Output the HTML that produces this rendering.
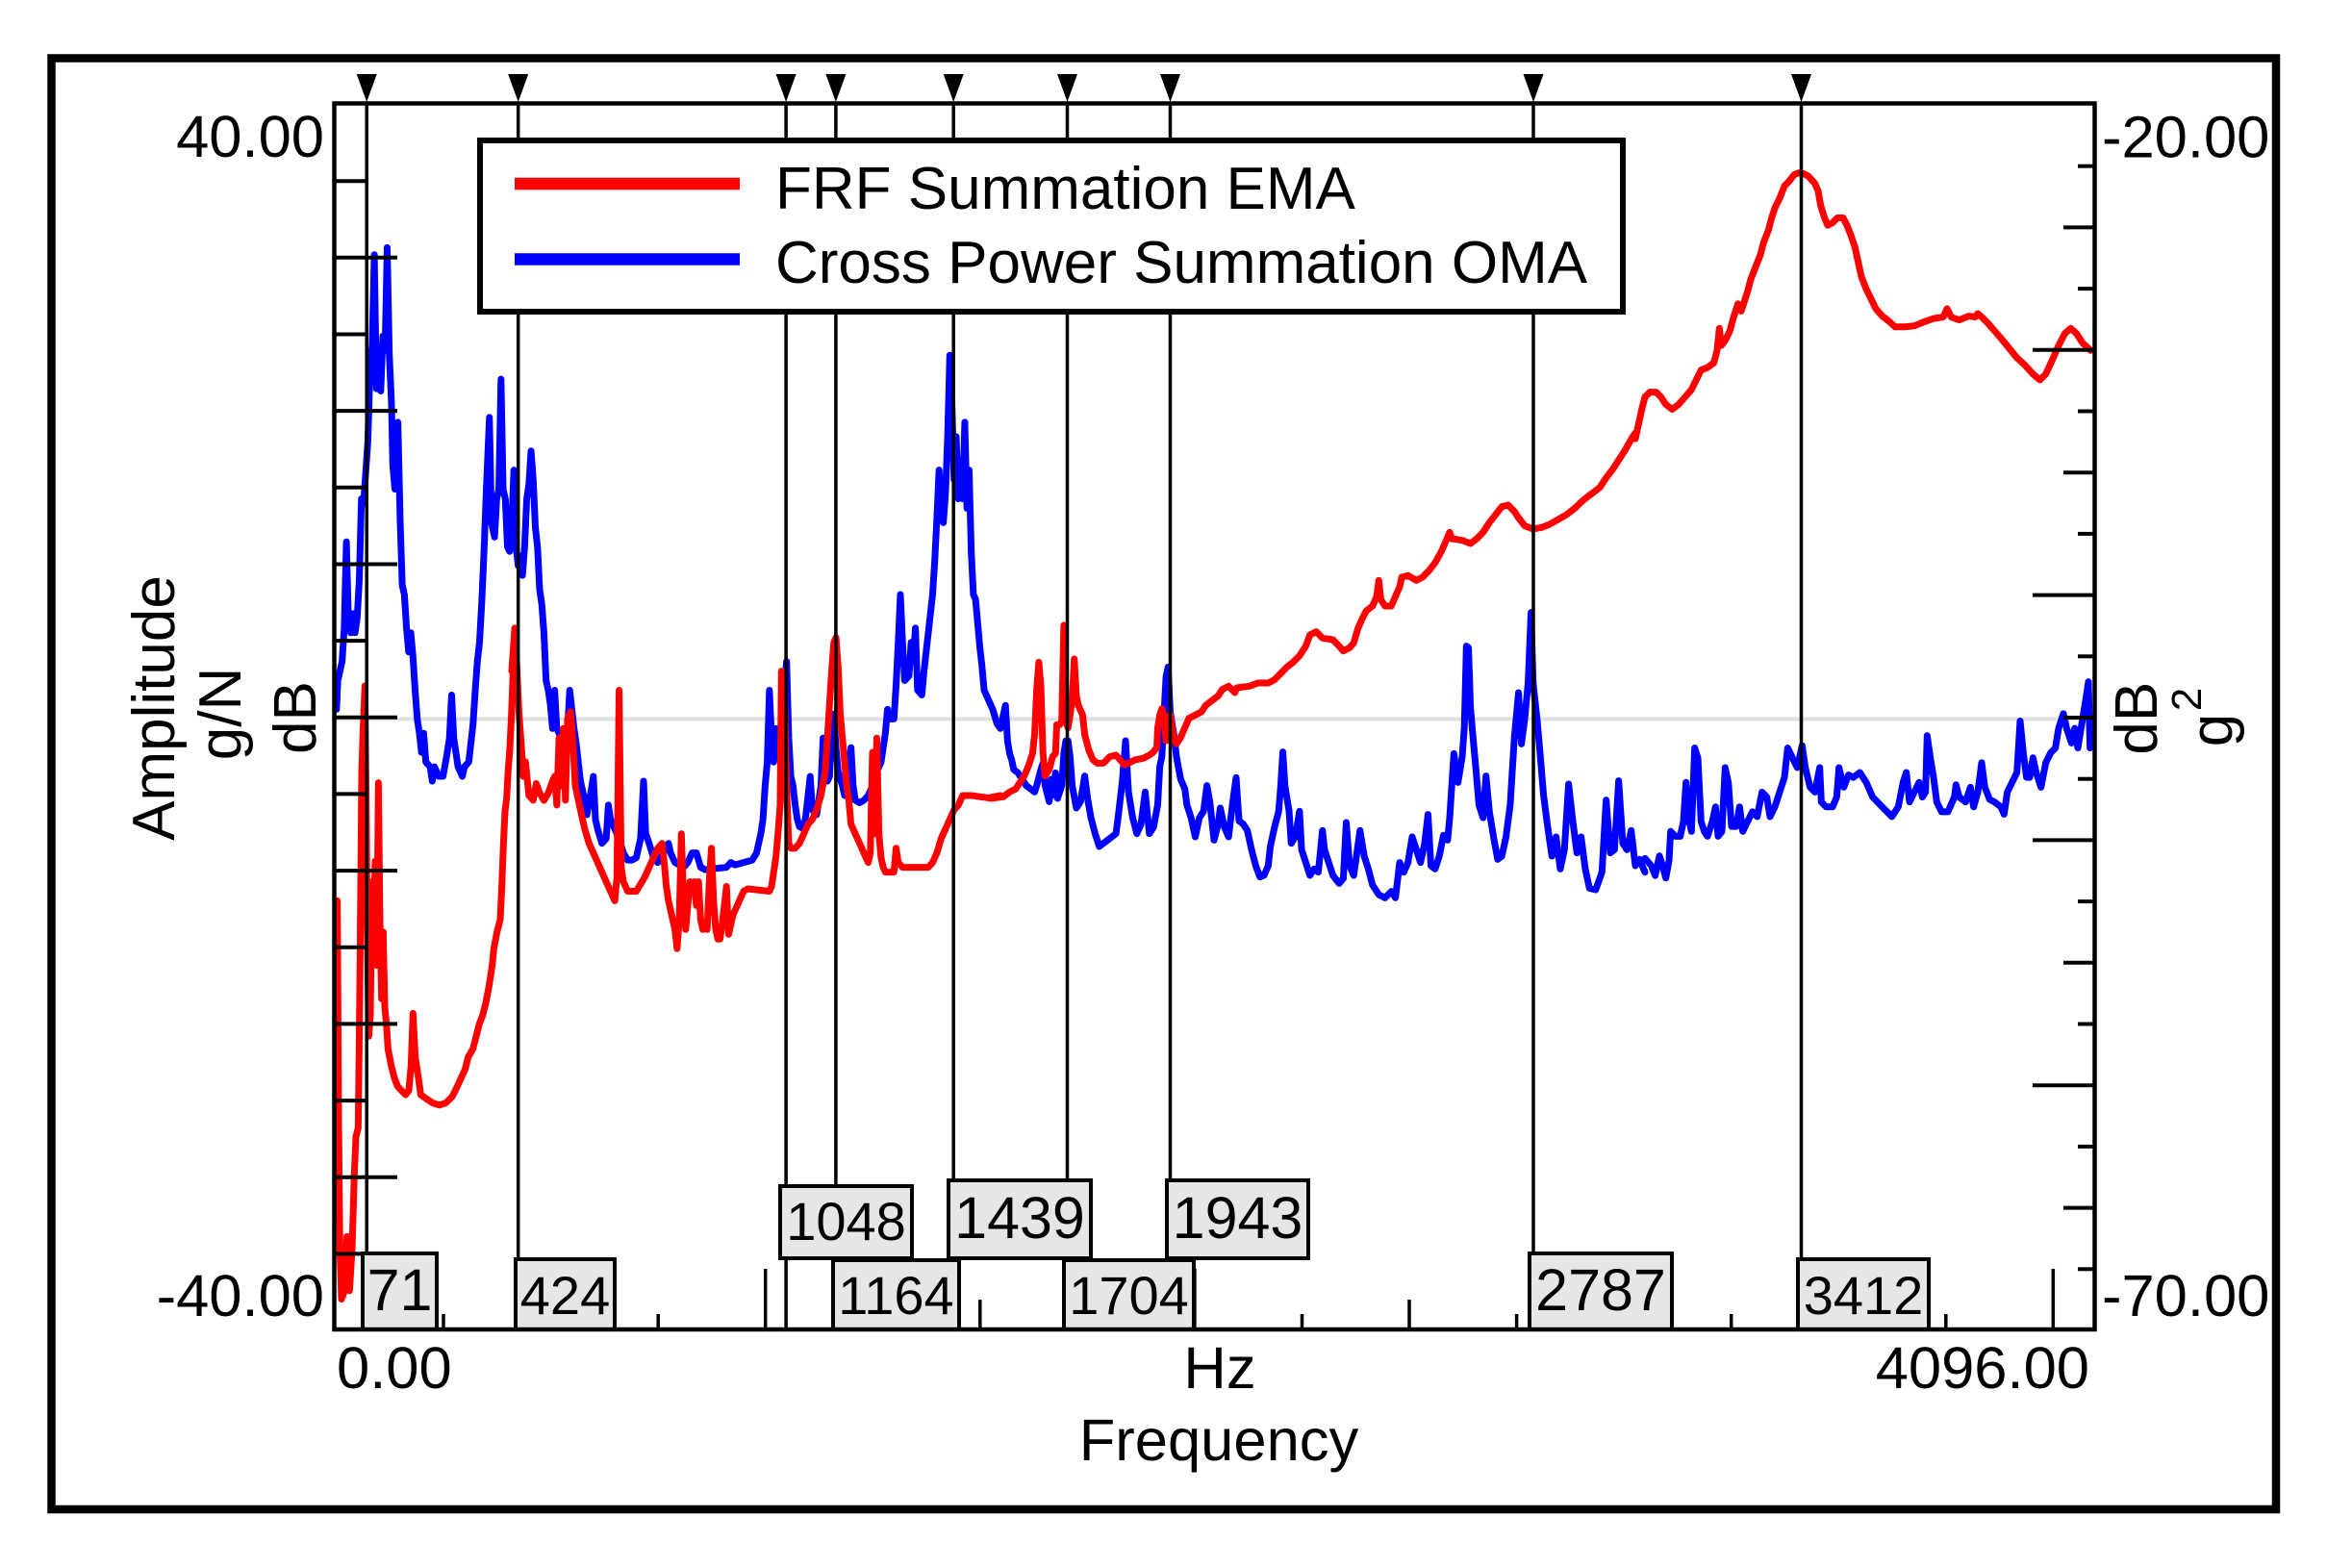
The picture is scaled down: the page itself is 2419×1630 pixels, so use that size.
<!DOCTYPE html>
<html><head><meta charset="utf-8"><style>
html,body{margin:0;padding:0;background:#fff;}
svg{display:block;}
text{font-family:"Liberation Sans",Arial,sans-serif;fill:#000;}
</style></head><body>
<svg width="2419" height="1630" viewBox="0 0 2419 1630" xmlns="http://www.w3.org/2000/svg">
<rect width="2419" height="1630" fill="#fff"/>
<!-- outer border -->
<rect x="53.5" y="60.5" width="2312.5" height="1508.5" fill="none" stroke="#000" stroke-width="8.5"/>
<!-- zero line -->
<line x1="349" y1="747.5" x2="2176" y2="747.5" stroke="#e0e0e0" stroke-width="4"/>

<!-- curves -->
<g fill="none" stroke-linejoin="round" stroke-linecap="round">
<g transform="translate(340,220) scale(0.44643,0.49751)">
<path vector-effect="non-scaling-stroke" stroke="#0000ff" stroke-width="7" d="M22,1040 L25,980 L35,940 L40,870 L45,690 L50,860 L55,880 L60,840 L65,880 L70,850 L75,770 L80,600 L85,610 L95,480 L100,330 L105,280 L110,90 L115,370 L120,300 L125,375 L130,260 L135,290 L140,75 L145,300 L150,400 L153,530 L158,580 L162,500 L165,440 L170,640 L175,780 L180,800 L185,870 L190,920 L195,880 L200,930 L205,1000 L210,1060 L215,1090 L220,1130 L225,1090 L230,1150 L240,1160 L245,1190 L250,1160 L260,1180 L270,1180 L278,1140 L285,1100 L290,1010 L295,1100 L300,1130 L305,1160 L315,1180 L320,1160 L330,1150 L335,1110 L340,1070 L345,1000 L350,940 L355,900 L360,820 L365,720 L370,600 L378,430 L383,650 L390,680 L395,600 L400,580 L405,350 L410,580 L415,600 L420,700 L425,710 L430,650 L435,540 L440,700 L445,740 L450,720 L455,760 L460,700 L465,600 L470,570 L475,500 L480,560 L485,660 L490,700 L495,790 L500,820 L505,880 L510,980 L515,1000 L520,1030 L525,1080 L530,1000 L535,1080 L540,1090 L545,1100 L555,1090 L560,1080 L565,1000 L570,1040 L575,1080 L580,1110 L585,1150 L590,1190 L600,1230 L605,1260 L615,1210 L620,1180 L625,1270 L630,1290 L640,1320 L650,1310 L655,1240 L660,1270 L670,1290 L680,1310 L690,1340 L700,1355 L710,1355 L720,1350 L730,1310 L737,1190 L742,1300 L750,1320 L760,1350 L770,1360 L780,1345 L790,1330 L795,1320 L800,1340 L810,1360 L820,1365 L830,1370 L840,1360 L850,1340 L860,1340 L870,1370 L880,1375 L930,1370 L940,1360 L950,1365 L970,1360 L990,1355 L1000,1340 L1010,1300 L1015,1270 L1020,1200 L1025,1150 L1030,1000 L1035,1100 L1040,1150 L1045,1080 L1050,1130 L1055,1120 L1060,1050 L1065,1000 L1070,940 L1075,1100 L1080,1180 L1085,1200 L1090,1240 L1095,1270 L1100,1285 L1110,1290 L1115,1260 L1120,1220 L1125,1180 L1130,1250 L1140,1260 L1150,1200 L1155,1100 L1160,1150 L1165,1190 L1170,1180 L1175,1090 L1180,1050 L1185,1120 L1190,1170 L1200,1200 L1205,1220 L1210,1190 L1215,1150 L1220,1120 L1225,1200 L1230,1230 L1240,1235 L1250,1230 L1260,1220 L1270,1200 L1275,1160 L1280,1170 L1290,1150 L1295,1120 L1300,1090 L1305,1040 L1310,1060 L1320,1060 L1325,990 L1330,900 L1335,800 L1340,900 L1345,980 L1355,970 L1360,900 L1365,940 L1370,870 L1375,1000 L1385,1010 L1390,960 L1395,920 L1400,880 L1405,840 L1410,800 L1415,730 L1420,640 L1425,540 L1430,640 L1435,650 L1440,590 L1445,470 L1450,300 L1455,400 L1460,560 L1465,470 L1470,600 L1475,520 L1480,600 L1485,440 L1490,620 L1495,540 L1500,710 L1505,800 L1510,810 L1515,860 L1520,910 L1525,950 L1530,1000 L1540,1020 L1550,1040 L1560,1070 L1568,1080"/>
</g>
<g transform="translate(1030,450) scale(0.43365,0.33333)">
<path vector-effect="non-scaling-stroke" stroke="#0000ff" stroke-width="7" d="M25,910 L35,850 L40,960 L45,1000 L50,1020 L55,1050 L65,1060 L75,1080 L85,1100 L95,1110 L105,1120 L110,1100 L120,1050 L125,1030 L130,1100 L140,1150 L145,1080 L150,1130 L155,1060 L160,1140 L170,1100 L175,1000 L180,960 L185,960 L190,1010 L195,1100 L205,1170 L215,1150 L225,1070 L232,1140 L240,1200 L250,1250 L260,1290 L270,1280 L280,1270 L290,1260 L300,1250 L305,1200 L315,1090 L323,960 L330,1120 L340,1200 L350,1250 L360,1220 L370,1120 L380,1250 L390,1230 L400,1160 L405,1040 L410,1010 L415,880 L420,760 L425,730 L430,870 L440,950 L445,1010 L455,1080 L465,1110 L470,1160 L480,1200 L490,1260 L500,1200 L510,1180 L518,1100 L525,1150 L535,1270 L545,1220 L550,1170 L560,1230 L570,1260 L580,1150 L588,1075 L595,1210 L605,1220 L615,1240 L625,1300 L635,1350 L645,1385 L655,1380 L665,1350 L670,1290 L680,1230 L690,1180 L695,1100 L700,995 L705,1100 L715,1180 L720,1280 L730,1260 L740,1180 L745,1300 L755,1340 L765,1380 L775,1360 L785,1370 L795,1240 L800,1300 L810,1340 L820,1380 L835,1405 L845,1390 L852,1215 L860,1350 L870,1380 L885,1240 L895,1320 L905,1360 L915,1410 L930,1440 L945,1450 L960,1430 L970,1450 L980,1340 L990,1370 L1000,1340 L1010,1260 L1020,1300 L1030,1340 L1040,1280 L1048,1190 L1055,1350 L1065,1360 L1075,1320 L1085,1255 L1095,1270 L1100,1200 L1105,1100 L1110,1000 L1120,1090 L1130,1010 L1135,920 L1140,665 L1145,670 L1150,860 L1158,980 L1163,1050 L1170,1160 L1180,1200 L1187,1070 L1195,1180 L1205,1260 L1215,1330 L1225,1320 L1235,1260 L1245,1160 L1255,950 L1265,810 L1272,970 L1280,890 L1288,780 L1295,560 L1300,780 L1310,900 L1318,1020 L1325,1130 L1335,1230 L1345,1320 L1355,1260 L1365,1360 L1375,1300 L1385,1095 L1395,1210 L1405,1310 L1415,1260 L1425,1360 L1435,1420 L1450,1425 L1465,1370 L1475,1145 L1485,1310 L1495,1300 L1505,1085 L1515,1280 L1525,1300 L1535,1240 L1545,1350 L1555,1330 L1568,1370"/>
</g>
<g transform="translate(1700,150) scale(0.33333,0.5102)">
<path vector-effect="non-scaling-stroke" stroke="#0000ff" stroke-width="7" d="M30,1455 L50,1470 L62,1490 L75,1450 L85,1470 L95,1495 L105,1460 L110,1400 L125,1410 L140,1410 L150,1380 L158,1300 L165,1370 L175,1400 L185,1230 L195,1250 L205,1380 L215,1400 L225,1410 L240,1380 L250,1350 L258,1410 L270,1400 L280,1270 L290,1300 L300,1390 L315,1390 L325,1350 L335,1400 L350,1380 L365,1360 L380,1370 L395,1320 L410,1330 L420,1370 L435,1350 L450,1320 L465,1290 L475,1230 L490,1250 L505,1270 L520,1225 L530,1270 L545,1310 L560,1320 L575,1270 L580,1340 L595,1350 L615,1350 L628,1330 L635,1270 L650,1310 L665,1285 L680,1290 L700,1280 L720,1300 L740,1330 L755,1340 L770,1350 L785,1360 L800,1370 L820,1350 L835,1300 L845,1280 L855,1340 L870,1320 L885,1300 L895,1330 L905,1320 L910,1205 L920,1250 L930,1290 L940,1340 L955,1360 L975,1360 L995,1330 L1000,1305 L1010,1330 L1030,1340 L1045,1310 L1055,1350 L1068,1320 L1080,1260 L1090,1310 L1105,1335 L1120,1340 L1140,1350 L1150,1365 L1160,1320 L1175,1300 L1190,1280 L1200,1175 L1210,1240 L1220,1290 L1230,1290 L1240,1250 L1250,1280 L1265,1310 L1280,1260 L1295,1240 L1310,1230 L1320,1190 L1335,1160 L1345,1190 L1360,1220 L1370,1190 L1380,1230 L1395,1170 L1405,1130 L1413,1095 L1418,1230"/>
</g>

<!-- red -->
<g transform="translate(340,700) scale(0.33333,0.43365)">
<path vector-effect="non-scaling-stroke" stroke="#ff0000" stroke-width="7" d="M32,545 L34,800 L36,1080 L40,1380 L45,1500 L55,1480 L62,1350 L70,1480 L78,1380 L85,1200 L90,1110 L97,1090 L100,900 L103,680 L108,240 L112,140 L118,30 L122,300 L125,600 L130,870 L135,820 L140,500 L145,600 L150,450 L155,700 L160,262 L165,600 L170,780 L175,620 L180,800 L185,840 L190,900 L200,940 L210,970 L220,990 L232,1000 L245,1010 L255,1000 L262,940 L268,815 L275,920 L285,970 L292,1010 L310,1020 L330,1030 L350,1035 L370,1030 L390,1015 L400,1000 L415,975 L430,950 L440,920 L455,900 L465,870 L475,840 L485,820 L495,790 L505,750 L515,700 L520,660 L530,620 L540,590 L545,510 L550,410 L555,330 L560,300 L565,230 L570,180 L575,100 L580,0"/>
</g>
<g transform="translate(340,220) scale(0.44643,0.49751)">
<path vector-effect="non-scaling-stroke" stroke="#ff0000" stroke-width="7" d="M430,960 L437,870 L442,950 L447,1050 L452,1110 L457,1180 L462,1150 L470,1220 L480,1230 L487,1195 L495,1215 L505,1230 L515,1215 L525,1190 L530,1180 L535,1240 L540,1100 L545,1200 L550,1080 L555,1230 L560,1060 L567,1045 L572,1100 L578,1200 L590,1250 L600,1290 L610,1320 L620,1340 L630,1360 L640,1380 L650,1400 L660,1420 L670,1440 L675,1390 L680,1000 L685,1370 L690,1400 L700,1420 L720,1420 L730,1405 L740,1390 L750,1370 L760,1350 L770,1330 L780,1320 L785,1360 L790,1410 L795,1440 L800,1460 L805,1480 L810,1500 L815,1540 L820,1480 L825,1300 L830,1440 L835,1500 L840,1450 L845,1400 L850,1420 L855,1400 L860,1450 L865,1400 L870,1480 L875,1500 L880,1490 L885,1500 L890,1400 L895,1330 L900,1440 L905,1500 L910,1520 L915,1520 L920,1490 L925,1450 L930,1410 L935,1510 L940,1490 L945,1470 L950,1460 L960,1440 L970,1420 L980,1415 L1030,1420 L1035,1410 L1040,1380 L1045,1350 L1050,1300 L1055,1240 L1058,960 L1062,1200 L1065,1000 L1070,1200 L1075,1320 L1080,1330 L1090,1330 L1100,1320 L1110,1300 L1120,1280 L1130,1270 L1140,1250 L1150,1220 L1160,1170 L1165,1100 L1170,1030 L1175,960 L1180,900 L1185,890 L1190,950 L1195,1050 L1200,1100 L1205,1150 L1210,1200 L1215,1230 L1220,1280 L1230,1300 L1240,1320 L1250,1340 L1260,1360 L1265,1340 L1270,1130 L1275,1300 L1280,1100 L1285,1300 L1290,1350 L1295,1370 L1300,1380 L1320,1380 L1325,1330 L1330,1360 L1340,1370 L1400,1370 L1410,1360 L1420,1340 L1430,1310 L1440,1290 L1450,1270 L1460,1250 L1470,1240 L1480,1220 L1500,1220 L1540,1225 L1568,1220"/>
</g>
<g transform="translate(1030,450) scale(0.43365,0.33333)">
<path vector-effect="non-scaling-stroke" stroke="#ff0000" stroke-width="7" d="M0,1140 L30,1135 L45,1120 L60,1110 L70,1090 L80,1070 L90,1040 L100,1000 L105,940 L110,800 L115,715 L120,790 L125,1000 L130,1070 L135,1060 L140,1050 L148,1010 L155,1000 L158,910 L165,910 L170,900 L175,600 L180,900 L185,920 L190,880 L195,830 L200,705 L205,820 L210,850 L220,880 L225,940 L235,990 L245,1020 L255,1030 L270,1030 L285,1010 L300,1005 L310,1020 L320,1035 L330,1030 L345,1020 L365,1015 L380,1005 L390,995 L398,980 L400,920 L405,880 L410,860 L415,880 L420,960 L425,900 L430,880 L435,920 L440,960 L445,970 L455,950 L465,920 L475,890 L490,880 L505,870 L515,850 L530,835 L545,820 L555,800 L570,790 L585,810 L590,795 L620,790 L640,780 L665,780 L680,770 L695,750 L710,730 L725,715 L740,695 L755,665 L765,630 L780,620 L795,640 L820,645 L835,665 L845,680 L860,670 L870,655 L880,610 L890,580 L900,555 L915,540 L925,510 L930,460 L935,520 L945,540 L960,540 L970,510 L980,480 L985,450 L1000,445 L1020,460 L1035,450 L1050,430 L1065,405 L1080,370 L1090,340 L1100,310 L1105,330 L1130,335 L1150,345 L1165,330 L1180,310 L1195,280 L1210,255 L1225,230 L1240,225 L1255,245 L1265,265 L1280,290 L1300,300 L1320,295 L1340,285 L1360,270 L1380,255 L1400,235 L1420,210 L1440,190 L1460,170 L1475,140 L1490,115 L1505,85 L1520,55 L1535,20 L1545,0"/>
</g>
<g transform="translate(1700,150) scale(0.33333,0.5102)">
<path vector-effect="non-scaling-stroke" stroke="#ff0000" stroke-width="7" d="M0,600 L10,570 L20,540 L30,515 L45,505 L65,505 L80,515 L95,530 L115,540 L135,530 L155,515 L175,500 L190,480 L205,460 L225,455 L245,445 L255,420 L262,375 L268,410 L280,400 L295,380 L305,355 L320,325 L330,340 L340,320 L350,300 L360,275 L375,250 L390,225 L400,200 L415,175 L425,150 L435,130 L450,110 L465,85 L480,75 L495,62 L510,58 L525,60 L540,65 L560,80 L570,95 L578,125 L590,150 L600,165 L615,160 L630,150 L648,150 L660,165 L672,185 L685,210 L695,240 L705,270 L720,295 L735,315 L750,335 L770,350 L790,360 L810,372 L840,372 L870,370 L900,362 L930,355 L960,352 L972,335 L985,352 L1010,358 L1040,350 L1060,352 L1068,345 L1085,355 L1100,365 L1120,380 L1140,395 L1165,415 L1190,435 L1215,450 L1240,468 L1262,480 L1280,468 L1300,440 L1320,410 L1340,385 L1358,375 L1375,385 L1395,405 L1420,420"/>
</g>
</g>

<!-- marker lines -->
<g stroke="#000" stroke-width="3.5">
<line x1="381.2" y1="107" x2="381.2" y2="1382"/>
<line x1="538.7" y1="107" x2="538.7" y2="1382"/>
<line x1="817.1" y1="107" x2="817.1" y2="1382"/>
<line x1="868.9" y1="107" x2="868.9" y2="1382"/>
<line x1="991.2" y1="107" x2="991.2" y2="1382"/>
<line x1="1109.5" y1="107" x2="1109.5" y2="1382"/>
<line x1="1216.5" y1="107" x2="1216.5" y2="1382"/>
<line x1="1594" y1="107" x2="1594" y2="1382"/>
<line x1="1872.5" y1="107" x2="1872.5" y2="1382"/>
</g>
<g fill="#000">
<polygon points="370.7,77 391.7,77 381.2,106"/>
<polygon points="528.2,77 549.2,77 538.7,106"/>
<polygon points="806.6,77 827.6,77 817.1,106"/>
<polygon points="858.4,77 879.4,77 868.9,106"/>
<polygon points="980.7,77 1001.7,77 991.2,106"/>
<polygon points="1099,77 1120,77 1109.5,106"/>
<polygon points="1206,77 1227,77 1216.5,106"/>
<polygon points="1583.5,77 1604.5,77 1594,106"/>
<polygon points="1862,77 1883,77 1872.5,106"/>
</g>

<!-- left ticks -->
<g stroke="#000" stroke-width="4">
<line x1="349" y1="188.2" x2="380" y2="188.2"/>
<line x1="349" y1="267.8" x2="413" y2="267.8"/>
<line x1="349" y1="347.5" x2="380" y2="347.5"/>
<line x1="349" y1="427.1" x2="413" y2="427.1"/>
<line x1="349" y1="506.8" x2="380" y2="506.8"/>
<line x1="349" y1="586.5" x2="413" y2="586.5"/>
<line x1="349" y1="666.1" x2="380" y2="666.1"/>
<line x1="349" y1="745.8" x2="413" y2="745.8"/>
<line x1="349" y1="825.4" x2="380" y2="825.4"/>
<line x1="349" y1="905.1" x2="413" y2="905.1"/>
<line x1="349" y1="984.8" x2="380" y2="984.8"/>
<line x1="349" y1="1064.4" x2="413" y2="1064.4"/>
<line x1="349" y1="1144.1" x2="380" y2="1144.1"/>
<line x1="349" y1="1223.7" x2="413" y2="1223.7"/>
<line x1="349" y1="1303.4" x2="380" y2="1303.4"/>
</g>
<!-- right ticks -->
<g stroke="#000" stroke-width="4">
<line x1="2176" y1="172.7" x2="2160" y2="172.7"/>
<line x1="2176" y1="236.4" x2="2145" y2="236.4"/>
<line x1="2176" y1="300.1" x2="2160" y2="300.1"/>
<line x1="2176" y1="363.8" x2="2113" y2="363.8"/>
<line x1="2176" y1="427.5" x2="2160" y2="427.5"/>
<line x1="2176" y1="491.2" x2="2145" y2="491.2"/>
<line x1="2176" y1="554.9" x2="2160" y2="554.9"/>
<line x1="2176" y1="618.6" x2="2113" y2="618.6"/>
<line x1="2176" y1="682.3" x2="2160" y2="682.3"/>
<line x1="2176" y1="746" x2="2145" y2="746"/>
<line x1="2176" y1="809.7" x2="2160" y2="809.7"/>
<line x1="2176" y1="873.4" x2="2113" y2="873.4"/>
<line x1="2176" y1="937.1" x2="2160" y2="937.1"/>
<line x1="2176" y1="1000.8" x2="2145" y2="1000.8"/>
<line x1="2176" y1="1064.5" x2="2160" y2="1064.5"/>
<line x1="2176" y1="1128.2" x2="2113" y2="1128.2"/>
<line x1="2176" y1="1191.9" x2="2160" y2="1191.9"/>
<line x1="2176" y1="1255.6" x2="2145" y2="1255.6"/>
<line x1="2176" y1="1319.3" x2="2160" y2="1319.3"/>
</g>
<!-- bottom ticks -->
<g stroke="#000" stroke-width="3.5">
<line x1="461" y1="1382" x2="461" y2="1366"/>
<line x1="572.6" y1="1382" x2="572.6" y2="1351"/>
<line x1="684.2" y1="1382" x2="684.2" y2="1366"/>
<line x1="795.7" y1="1382" x2="795.7" y2="1319"/>
<line x1="907.3" y1="1382" x2="907.3" y2="1366"/>
<line x1="1018.8" y1="1382" x2="1018.8" y2="1351"/>
<line x1="1130.4" y1="1382" x2="1130.4" y2="1366"/>
<line x1="1241.9" y1="1382" x2="1241.9" y2="1319"/>
<line x1="1353.5" y1="1382" x2="1353.5" y2="1366"/>
<line x1="1465" y1="1382" x2="1465" y2="1351"/>
<line x1="1576.6" y1="1382" x2="1576.6" y2="1366"/>
<line x1="1688.1" y1="1382" x2="1688.1" y2="1319"/>
<line x1="1799.7" y1="1382" x2="1799.7" y2="1366"/>
<line x1="1911.2" y1="1382" x2="1911.2" y2="1351"/>
<line x1="2022.8" y1="1382" x2="2022.8" y2="1366"/>
<line x1="2134.3" y1="1382" x2="2134.3" y2="1319"/>
</g>

<!-- label boxes -->
<g fill="#e6e6e6" stroke="#000" stroke-width="4">
<rect x="377" y="1303" width="77" height="79"/>
<rect x="536" y="1309" width="103" height="73"/>
<rect x="811" y="1233" width="137" height="75"/>
<rect x="866" y="1310" width="131" height="72"/>
<rect x="986" y="1227" width="148" height="81"/>
<rect x="1106" y="1310" width="135" height="72"/>
<rect x="1213" y="1227" width="147" height="81"/>
<rect x="1590" y="1303" width="148" height="79"/>
<rect x="1869" y="1309" width="136" height="73"/>
</g>
<g text-anchor="middle">
<text x="415.5" y="1362" font-size="61">71</text>
<text x="587.5" y="1366" font-size="56">424</text>
<text x="879.5" y="1289" font-size="56">1048</text>
<text x="931.5" y="1366" font-size="56">1164</text>
<text x="1060" y="1287" font-size="61">1439</text>
<text x="1173.5" y="1366" font-size="56">1704</text>
<text x="1286.5" y="1287" font-size="61">1943</text>
<text x="1664" y="1362" font-size="61">2787</text>
<text x="1937" y="1366" font-size="56">3412</text>
</g>

<!-- plot frame -->
<rect x="347.5" y="107.5" width="1830" height="1274.5" fill="none" stroke="#000" stroke-width="4.5"/>

<!-- legend -->
<rect x="499" y="146" width="1188" height="178" fill="#fff" stroke="#000" stroke-width="6"/>
<line x1="535" y1="191" x2="769" y2="191" stroke="#ff0000" stroke-width="12.5"/>
<line x1="535" y1="269.5" x2="769" y2="269.5" stroke="#0000ff" stroke-width="12.5"/>
<text x="806" y="217" font-size="62">FRF Summation EMA</text>
<text x="806" y="294" font-size="62">Cross Power Summation OMA</text>

<!-- axis labels -->
<g font-size="61.5">
<text x="337" y="163" text-anchor="end">40.00</text>
<text x="337" y="1368" text-anchor="end">-40.00</text>
<text x="2185" y="163.5">-20.00</text>
<text x="2185" y="1368">-70.00</text>
<text x="350" y="1443">0.00</text>
<text x="2172" y="1443" text-anchor="end">4096.00</text>
<text x="1268" y="1443" text-anchor="middle">Hz</text>
<text x="1267" y="1518" text-anchor="middle">Frequency</text>
</g>
<g font-size="62" text-anchor="middle">
<text transform="translate(181,736) rotate(-90)">Amplitude</text>
<text transform="translate(250,742) rotate(-90)">g/N</text>
<text transform="translate(328,746) rotate(-90)">dB</text>
<text transform="translate(2242,746.7) rotate(-90)">dB</text>
<text transform="translate(2320,759) rotate(-90)">g</text>
<text transform="translate(2288,727) rotate(-90)" font-size="44">2</text>
</g>
</svg>
</body></html>
